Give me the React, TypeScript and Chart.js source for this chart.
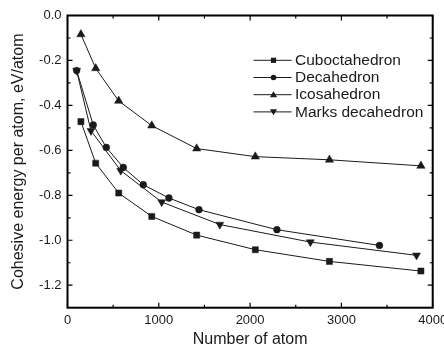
import React, { useEffect, useRef } from 'react';
import { Chart, registerables } from 'chart.js';
Chart.register(...registerables);

// ---- data ----
const seriesNames = ['Cuboctahedron', 'Decahedron', 'Icosahedron', 'Marks decahedron'];
const cuboX = [147, 309, 561, 923, 1415, 2057, 2869, 3871];
const cuboY = [-0.472, -0.657, -0.79, -0.894, -0.977, -1.042, -1.094, -1.137];
const decaX = [100, 282, 425, 611, 830, 1111, 1440, 2294, 3417];
const decaY = [-0.245, -0.487, -0.587, -0.676, -0.753, -0.812, -0.864, -0.953, -1.023];
const icoX = [147, 309, 561, 923, 1415, 2057, 2869, 3871];
const icoY = [-0.084, -0.235, -0.38, -0.49, -0.592, -0.628, -0.642, -0.669];
const marksX = [100, 257, 583, 1032, 1668, 2660, 3823];
const marksY = [-0.245, -0.513, -0.69, -0.83, -0.93, -1.008, -1.067];
const xTicks = [0, 1000, 2000, 3000, 4000];
const xMinor = [500, 1500, 2500, 3500];
const yTicks = [-1.2, -1.0, -0.8, -0.6, -0.4, -0.2, 0.0];
const yMinor = [-1.1, -0.9, -0.7, -0.5, -0.3, -0.1];
const xTitle = 'Number of atom';
const yTitle = 'Cohesive energy per atom, eV/atom';

const INK = '#1a1a1a';
const FONT = '"Liberation Sans", Arial, Helvetica, sans-serif';

const toPts = (xs: number[], ys: number[]) => xs.map((x, i) => ({ x, y: ys[i] }));

const styles = [
  { pointStyle: 'rect', radius: 4.3, rotation: 0, legend: 'square' },
  { pointStyle: 'circle', radius: 3.4, rotation: 0, legend: 'circle' },
  { pointStyle: 'triangle', radius: 4.8, rotation: 0, legend: 'up' },
  { pointStyle: 'triangle', radius: 4.6, rotation: 180, legend: 'down' },
];

const framePlugin = {
  id: 'frameAndLegend',
  afterDraw(chart: any) {
    const ctx: CanvasRenderingContext2D = chart.ctx;
    const a = chart.chartArea;
    const xs = chart.scales.x, ys = chart.scales.y;
    const L = a.left, R = a.right, T = a.top, B = a.bottom;
    ctx.save();
    ctx.setLineDash([]);
    ctx.strokeStyle = '#000000';
    ctx.lineWidth = 2;
    ctx.strokeRect(L, T, R - L, B - T);
    ctx.lineWidth = 1.2;
    ctx.beginPath();
    const vt = (v: number, len: number) => {
      const px = xs.getPixelForValue(v);
      ctx.moveTo(px, B); ctx.lineTo(px, B - len);
      ctx.moveTo(px, T); ctx.lineTo(px, T + len);
    };
    const ht = (v: number, len: number) => {
      const py = ys.getPixelForValue(v);
      ctx.moveTo(L, py); ctx.lineTo(L + len, py);
      ctx.moveTo(R, py); ctx.lineTo(R - len, py);
    };
    xTicks.forEach((v) => vt(v, 5));
    xMinor.forEach((v) => vt(v, 3));
    yTicks.forEach((v) => ht(v, 5));
    yMinor.forEach((v) => ht(v, 3));
    ctx.stroke();

    // legend
    const tx = L + 227.5;
    const lx0 = L + 186;
    const lx1 = L + 224;
    const mx = L + 206;
    const y0 = T + 44.8;
    ctx.font = `15.5px ${FONT}`;
    ctx.textBaseline = 'middle';
    ctx.textAlign = 'left';
    seriesNames.forEach((name, i) => {
      const y = y0 + i * 17.2;
      ctx.strokeStyle = INK;
      ctx.fillStyle = INK;
      ctx.lineWidth = 1;
      ctx.beginPath();
      ctx.moveTo(lx0, y); ctx.lineTo(lx1, y);
      ctx.stroke();
      const kind = styles[i].legend;
      ctx.beginPath();
      if (kind === 'square') {
        ctx.rect(mx - 2.6, y - 2.6, 5.2, 5.2);
      } else if (kind === 'circle') {
        ctx.arc(mx, y, 2.8, 0, Math.PI * 2);
      } else if (kind === 'up') {
        ctx.moveTo(mx, y - 3.4); ctx.lineTo(mx + 3.6, y + 2.6); ctx.lineTo(mx - 3.6, y + 2.6); ctx.closePath();
      } else {
        ctx.moveTo(mx, y + 3.4); ctx.lineTo(mx + 3.6, y - 2.6); ctx.lineTo(mx - 3.6, y - 2.6); ctx.closePath();
      }
      ctx.fill();
      ctx.fillText(name, tx, y + 0.5);
    });
    ctx.restore();
  },
};

export default function App() {
  const ref = useRef<HTMLCanvasElement | null>(null);
  useEffect(() => {
    document.body.style.margin = '0';
    document.body.style.overflow = 'hidden';
    Chart.defaults.font.family = FONT;
    const xsData = [cuboX, decaX, icoX, marksX];
    const ysData = [cuboY, decaY, icoY, marksY];
    const datasets = seriesNames.map((name, i) => ({
      label: name,
      data: toPts(xsData[i], ysData[i]),
      borderColor: INK,
      backgroundColor: INK,
      borderWidth: 1,
      pointStyle: styles[i].pointStyle,
      pointRadius: styles[i].radius,
      pointRotation: styles[i].rotation,
      pointBorderWidth: 0.5,
      pointBackgroundColor: INK,
      pointBorderColor: INK,
      showLine: true,
      fill: false,
      tension: 0,
    }));
    const chart = new Chart(ref.current as HTMLCanvasElement, {
      type: 'scatter',
      data: { datasets } as any,
      plugins: [framePlugin],
      options: {
        animation: false,
        responsive: false,
        layout: { padding: { left: 0, top: 15.5, right: 37.3, bottom: 0 } },
        plugins: { legend: { display: false }, tooltip: { enabled: false } },
        scales: {
          x: {
            type: 'linear',
            position: 'bottom',
            min: 0,
            max: 4000,
            grid: { display: false, drawTicks: false },
            border: { display: false },
            afterBuildTicks: (s: any) => { s.ticks = xTicks.map((v) => ({ value: v })); },
            afterFit: (s: any) => { s.height = 40.3; },
            ticks: { color: INK, font: { size: 13 }, padding: 5, callback: (v: any) => String(v), maxRotation: 0 },
            title: { display: true, text: xTitle, color: INK, font: { size: 16, lineHeight: 1 }, padding: { top: 0, bottom: 0 } },
          },
          y: {
            type: 'linear',
            position: 'left',
            min: -1.3,
            max: 0,
            grid: { display: false, drawTicks: false },
            border: { display: false },
            afterBuildTicks: (s: any) => { s.ticks = yTicks.map((v) => ({ value: v })); },
            afterFit: (s: any) => { s.width = 67.5; },
            ticks: { color: INK, font: { size: 13 }, padding: 6, callback: (v: any) => Number(v).toFixed(1) },
            title: { display: true, text: yTitle, color: INK, font: { size: 16, lineHeight: 1 }, padding: { top: 11, bottom: 0 } },
          },
        },
      } as any,
    });
    return () => chart.destroy();
  }, []);
  return (
    <div style={{ width: 444, height: 348, overflow: 'hidden', background: '#fff' }}>
      <canvas ref={ref} width={470} height={348} style={{ width: 470, height: 348, display: 'block' }} />
    </div>
  );
}
